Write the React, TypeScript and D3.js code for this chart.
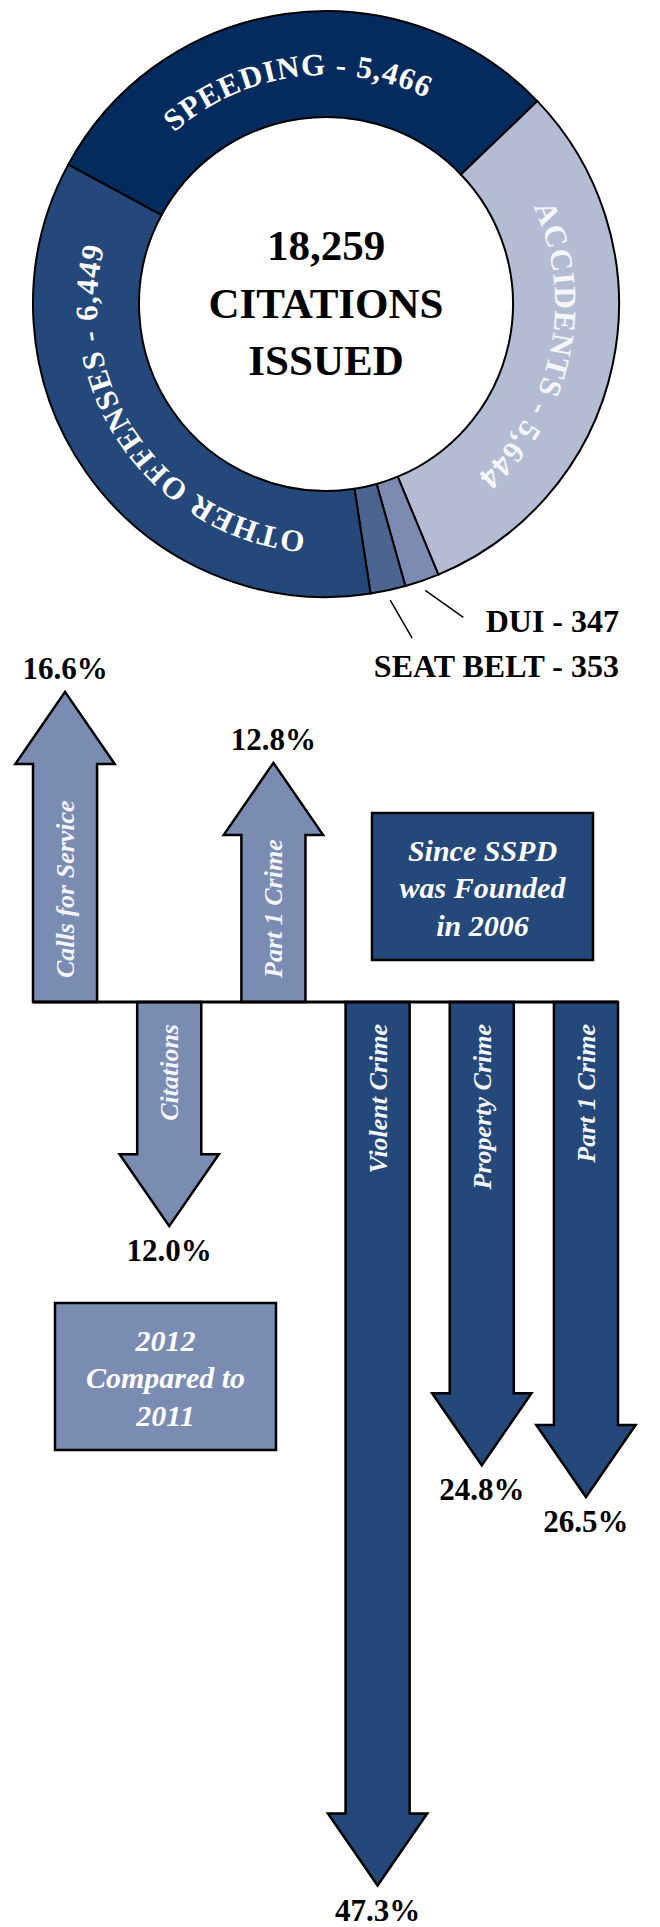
import React, { useEffect, useRef } from 'react';
import * as d3 from 'd3';

// citation breakdown (donut)
const sliceNames = ['SPEEDING', 'ACCIDENTS', 'DUI', 'SEAT BELT', 'OTHER OFFENSES'];
const sliceValues = [5466, 5644, 347, 353, 6449];
const sliceColors = ['#042b5e', '#b3bcd3', '#7b8bb2', '#4c6590', '#25487a'];
const centerLines = ['CITATIONS', 'ISSUED'];

// percent changes (arrows)
const changeLabels = ['Calls for Service', 'Citations', 'Part 1 Crime', 'Violent Crime', 'Property Crime', 'Part 1 Crime'];
const changeValues = [16.6, -12.0, 12.8, -47.3, -24.8, -26.5];
const changePeriods = ['2012', '2012', '2012', 'founded', 'founded', 'founded'];

// notes
const noteCompared = ['2012', 'Compared to', '2011'];
const noteFounded = ['Since SSPD', 'was Founded', 'in 2006'];

const W = 660;
const H = 1927;
const FONT = "'Liberation Serif', 'DejaVu Serif', serif";
const LIGHT = '#7b8cb3';
const DARK = '#24487a';

const App: React.FC = () => {
  const svgRef = useRef<SVGSVGElement>(null);

  useEffect(() => {
    if (!svgRef.current) return;
    const svg = d3.select(svgRef.current);
    svg.selectAll('*').remove();
    const defs = svg.append('defs');
    const fmt = d3.format(',');

    // ---- donut ----
    const cx = 326, cy = 304, outerR = 293, innerR = 187;
    const total = d3.sum(sliceValues);
    const start = (-61.6 * Math.PI) / 180;
    const pie = d3.pie<number>().sort(null).startAngle(start).endAngle(start + 2 * Math.PI);
    const arcs = pie(sliceValues);
    const arc = d3.arc<d3.PieArcDatum<number>>().innerRadius(innerR).outerRadius(outerR);

    const donut = svg.append('g').attr('transform', `translate(${cx},${cy})`);
    donut.selectAll('path.slice')
      .data(arcs)
      .enter()
      .append('path')
      .attr('class', 'slice')
      .attr('d', arc)
      .attr('fill', (d, i) => sliceColors[i])
      .attr('stroke', '#000')
      .attr('stroke-width', 2);

    // curved labels inside the ring
    const labelR = 229;
    arcs.forEach((d, i) => {
      if (d.value / total < 0.1) return;
      const mid = (d.startAngle + d.endAngle) / 2;
      const p = d3.path();
      p.arc(0, 0, labelR, mid - 1.55 - Math.PI / 2, mid + 1.55 - Math.PI / 2, false);
      defs.append('path').attr('id', `slice-label-${i}`).attr('d', p.toString());
      donut.append('text')
        .style('font-family', FONT)
        .attr('font-size', 31)
        .attr('font-weight', 'bold')
        .attr('letter-spacing', 1)
        .attr('fill', i === 1 ? '#f4f6fb' : '#ffffff')
        .append('textPath')
        .attr('href', `#slice-label-${i}`)
        .attr('startOffset', '50%')
        .attr('text-anchor', 'middle')
        .text(`${sliceNames[i]} - ${fmt(d.value)}`);
    });

    // centre total
    [fmt(total), ...centerLines].forEach((t, k) => {
      donut.append('text')
        .attr('x', 0)
        .attr('y', -44 + k * 57.5)
        .style('font-family', FONT)
        .attr('font-weight', 'bold')
        .attr('font-size', 43)
        .attr('text-anchor', 'middle')
        .attr('fill', '#000')
        .text(t);
    });

    // callouts for the thin slices
    const calloutLayout: Record<string, { dx: number; dy: number; baseline: number }> = {
      'DUI': { dx: 38, dy: 27, baseline: 632 },
      'SEAT BELT': { dx: 22, dy: 38, baseline: 677 }
    };
    arcs.forEach((d, i) => {
      const lay = calloutLayout[sliceNames[i]];
      if (!lay) return;
      const mid = (d.startAngle + d.endAngle) / 2;
      const sx = cx + Math.sin(mid) * (outerR + 10);
      const sy = cy - Math.cos(mid) * (outerR + 10);
      svg.append('line')
        .attr('x1', sx).attr('y1', sy)
        .attr('x2', sx + lay.dx).attr('y2', sy + lay.dy)
        .attr('stroke', '#000')
        .attr('stroke-width', 1.5);
      svg.append('text')
        .attr('x', 619)
        .attr('y', lay.baseline)
        .attr('text-anchor', 'end')
        .style('font-family', FONT)
        .attr('font-weight', 'bold')
        .attr('font-size', 32)
        .attr('fill', '#000')
        .text(`${sliceNames[i]} - ${fmt(d.value)}`);
    });

    // ---- arrows ----
    const baseY = 1002;
    const x = d3.scaleBand<number>()
      .domain(d3.range(changeValues.length))
      .range([33, 618])
      .paddingInner(0.385)
      .paddingOuter(0);
    const y = d3.scaleLinear().domain([-50, 50]).range([baseY + 934, baseY - 934]);
    const bw = x.bandwidth();
    const headLen = 72;
    const headHalf = bw * 0.775;

    changeValues.forEach((v, i) => {
      const x0 = x(i)!;
      const mx = x0 + bw / 2;
      const tip = y(v);
      const up = v > 0;
      const hb = tip + (up ? headLen : -headLen);
      const pts: [number, number][] = [
        [x0, baseY], [x0, hb], [mx - headHalf, hb], [mx, tip],
        [mx + headHalf, hb], [x0 + bw, hb], [x0 + bw, baseY]
      ];
      svg.append('path')
        .attr('d', d3.line()(pts) + 'Z')
        .attr('fill', changePeriods[i] === '2012' ? LIGHT : DARK)
        .attr('stroke', '#000')
        .attr('stroke-width', 2.5)
        .attr('stroke-linejoin', 'miter');

      svg.append('text')
        .attr('x', mx)
        .attr('y', up ? tip - 13 : tip + 35)
        .attr('text-anchor', 'middle')
        .style('font-family', FONT)
        .attr('font-weight', 'bold')
        .attr('font-size', 31)
        .attr('fill', '#000')
        .text(`${d3.format('.1f')(Math.abs(v))}%`);

      svg.append('text')
        .attr('transform', `translate(${mx + 9},${up ? baseY - 24 : baseY + 22}) rotate(-90)`)
        .attr('text-anchor', up ? 'start' : 'end')
        .style('font-family', FONT)
        .attr('font-style', 'italic')
        .attr('font-weight', 'bold')
        .attr('font-size', 26)
        .attr('fill', '#f3f5f9')
        .text(changeLabels[i]);
    });

    svg.append('line')
      .attr('x1', x(0)!)
      .attr('x2', x(changeValues.length - 1)! + bw)
      .attr('y1', baseY)
      .attr('y2', baseY)
      .attr('stroke', '#000')
      .attr('stroke-width', 3);

    // ---- note boxes ----
    const drawNote = (lines: string[], bx: number, by: number, fill: string) => {
      const bwid = 221, bh = 147;
      svg.append('rect')
        .attr('x', bx).attr('y', by)
        .attr('width', bwid).attr('height', bh)
        .attr('fill', fill)
        .attr('stroke', '#000')
        .attr('stroke-width', 2.5);
      lines.forEach((l, k) => {
        svg.append('text')
          .attr('x', bx + bwid / 2)
          .attr('y', by + 47.5 + k * 37.5)
          .attr('text-anchor', 'middle')
          .style('font-family', FONT)
          .attr('font-style', 'italic')
          .attr('font-weight', 'bold')
          .attr('font-size', 30)
          .attr('fill', '#fff')
          .text(l);
      });
    };
    drawNote(noteFounded, 372, 813, DARK);
    drawNote(noteCompared, 55, 1303, LIGHT);
  }, []);

  return (
    <svg
      ref={svgRef}
      width={W}
      height={H}
      viewBox={`0 0 ${W} ${H}`}
      style={{ position: 'absolute', top: 0, left: 0, background: '#fff' }}
    />
  );
};

export default App;
